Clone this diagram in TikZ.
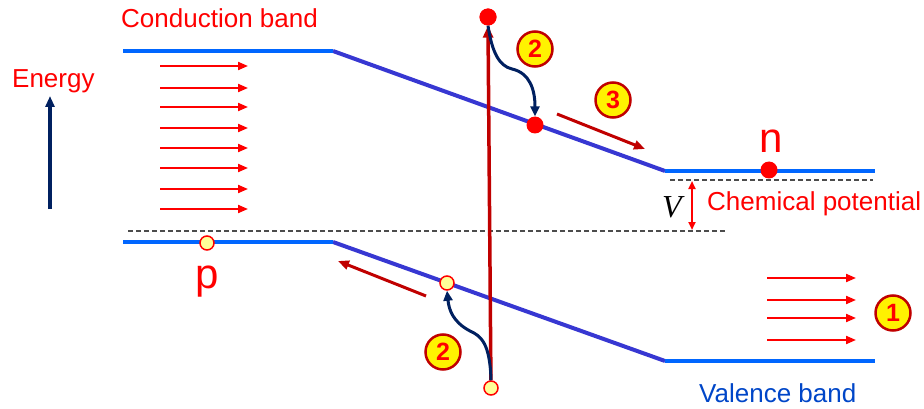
\documentclass[tikz,border=0pt]{standalone}
\usepackage{fontspec}
\setmainfont{Liberation Sans}
\newfontfamily\biasfont{Liberation Serif}
\usetikzlibrary{arrows.meta}
\definecolor{bandblue}{RGB}{0,102,255}
\definecolor{slopeblue}{RGB}{55,55,210}
\definecolor{darkred}{RGB}{192,0,0}
\definecolor{navy}{RGB}{0,32,96}
\definecolor{holefill}{RGB}{255,255,153}
\definecolor{valtext}{RGB}{0,70,200}
\tikzset{
  band/.style={line width=4.5pt, bandblue},
  slope/.style={line width=4pt, slopeblue},
  field/.style={red, line width=2pt, -{Triangle[length=10pt,width=8pt]}},
  drift/.style={darkred, line width=3pt, -{Triangle[length=11pt,width=9pt]}},
  hop/.style={navy, line width=3pt, -{Triangle[length=10pt,width=9pt]}},
  electron/.style={circle, fill=red, minimum size=17pt, inner sep=0pt},
  hole/.style={circle, draw=red, line width=1.5pt, fill=holefill, minimum size=14pt, inner sep=0pt},
  badge/.style={circle, draw=darkred, line width=2.5pt, fill=yellow, text=red,
    font=\fontsize{25}{25}\selectfont\bfseries, minimum size=35pt, inner sep=0pt},
  chem/.style={dashed, dash pattern=on 5pt off 3pt, gray!60!black, line width=1.2pt}
}
\begin{document}
\begin{tikzpicture}[x=1pt, y=-1pt, every node/.style={font=\fontsize{26}{30}\selectfont, inner sep=0pt}]
  \useasboundingbox (0,0) rectangle (924,409);
  % bands
  \coordinate (cb1) at (123,51); \coordinate (cb2) at (333,51);
  \coordinate (cb3) at (665,171); \coordinate (cb4) at (875,171);
  \coordinate (vb1) at (123,242); \coordinate (vb2) at (333,242);
  \coordinate (vb3) at (665,361); \coordinate (vb4) at (875,361);
  \draw[chem] (128,231) -- (725,231);
  \draw[chem] (670,180) -- (873,180);
  \draw[slope] (cb2) -- (cb3); \draw[slope] (vb2) -- (vb3);
  \draw[band] (cb1) -- (cb2); \draw[band] (cb3) -- (cb4);
  \draw[band] (vb1) -- (vb2); \draw[band] (vb3) -- (vb4);
  % labels
  \node[anchor=base west, red] (cblabel) at (121,28) {Conduction band};
  \node[anchor=base west, valtext] (vblabel) at (699,402) {Valence band};
  \node[anchor=base west, red] (chemlabel) at (707,210) {Chemical potential};
  \node[anchor=base west, red] (energy) at (12,88) {Energy};
  \node[anchor=base, font=\fontsize{32}{32}\biasfont\itshape] (vlabel) at (672,218) {V};
  \node[anchor=base, red, font=\fontsize{42}{42}\selectfont] (plabel) at (207,288) {p};
  \node[anchor=base, red, font=\fontsize{42}{42}\selectfont] (nlabel) at (771,153) {n};
  % energy axis and bias
  \coordinate (eax0) at (50,209); \coordinate (eax1) at (50,96);
  \draw[navy, line width=3.5pt, -{Triangle[length=11pt,width=9pt]}] (eax0) -- (eax1);
  \coordinate (vtop) at (692,181); \coordinate (vbot) at (692,230);
  \draw[red, line width=2pt, {Triangle[length=8pt,width=7pt]}-{Triangle[length=8pt,width=7pt]}] (vtop) -- (vbot);
  % built-in field
  \foreach \y in {66,88,107,128,148,168,189,209}
    \draw[field] (160,\y) -- (248,\y);
  \foreach \y in {278,300,318,340}
    \draw[field] (767,\y) -- (856,\y);
  % carriers
  \node[hole] (hb) at (491,388) {};
  \node[electron] (et) at (488,17) {};
  \draw[darkred, line width=3.5pt, -{Triangle[length=12pt,width=10pt]}] (hb) -- (et.south);
  \node[electron] (et) at (488,17) {};
  \node[electron] (em) at (535,125) {};
  \node[hole] (hs) at (447,283) {};
  \node[hole] (hp) at (207,243) {};
  \node[electron] (en) at (769,170) {};
  % relaxation
  \coordinate (ktop) at (512,69);
  \coordinate (kbot) at (470,331);
  \draw[hop] (et.south) .. controls (492,52) and (499,66) .. (ktop)
    .. controls (530,73) and (535,90) .. (em.north);
  \draw[hop] (hb.north) .. controls (490,343) and (481,336) .. (kbot)
    .. controls (453,322) and (449,310) .. (hs.south);
  % drift
  \coordinate (d3a) at (557,114); \coordinate (d3b) at (645,149);
  \draw[drift] (d3a) -- (d3b);
  \coordinate (dha) at (426,296); \coordinate (dhb) at (338,261);
  \draw[drift] (dha) -- (dhb);
  % steps
  \node[badge] (s1) at (893,313) {1};
  \node[badge] (s2a) at (535,49) {2};
  \node[badge] (s3) at (613,100) {3};
  \node[badge] (s2b) at (443,352) {2};
\end{tikzpicture}
\end{document}
